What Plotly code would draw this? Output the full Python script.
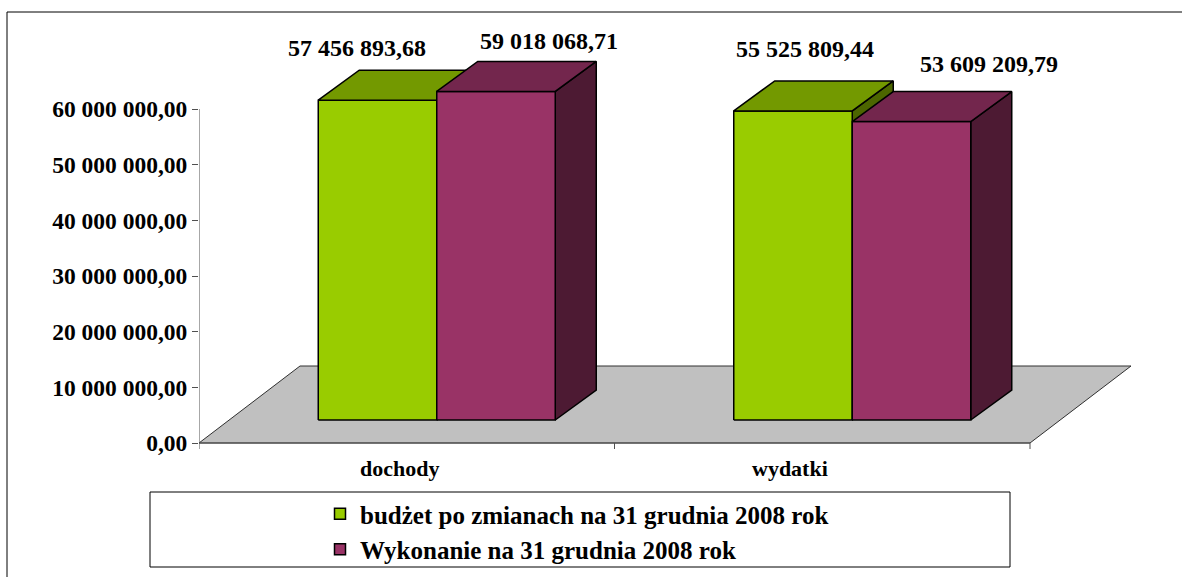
import plotly.graph_objects as go

# ---------------- data ----------------
categories = ["dochody", "wydatki"]
series_names = ["budżet po zmianach na 31 grudnia 2008 rok",
                "Wykonanie na 31 grudnia 2008 rok"]
budzet = [57456893.68, 55525809.44]
wykonanie = [59018068.71, 53609209.79]
tick_values = [0, 10000000, 20000000, 30000000, 40000000, 50000000, 60000000]
tick_labels = ["0,00", "10 000 000,00", "20 000 000,00", "30 000 000,00",
               "40 000 000,00", "50 000 000,00", "60 000 000,00"]

# ---------------- styling / geometry ----------------
W, H = 1182, 577
FONT = "Liberation Serif"
front_colors = ["#99CC00", "#993366"]
top_colors = ["#739900", "#73264D"]
side_colors = ["#4C6600", "#4D1A33"]
floor_color = "#C0C0C0"

AX_LEFT_PX = 199          # y-axis position in px
PX_PER_CAT = 415.5        # px per category unit
Y0_PX = 443               # pixel row of value 0
PX_PER_VAL = 334 / 60e6   # px per value unit

x_range = [-0.5, -0.5 + (W - AX_LEFT_PX) / PX_PER_CAT]
y_range = [-(H - Y0_PX) / PX_PER_VAL, Y0_PX / PX_PER_VAL]


def dxu(px):
    return px / PX_PER_CAT


def dyu(px):
    return px / PX_PER_VAL


bar_w = dxu(118.5)
front_dx, front_dy = dxu(30), dyu(23)     # depth position of bar front faces
depth_dx, depth_dy = dxu(41), dyu(30)     # bar depth
floor_dx, floor_dy = dxu(101), dyu(77)    # floor depth

# label nudges (px) for each series / category
label_xshift = [[-21, 12], [53, 77]]
label_yshift = [[52, 62], [50, 58]]
cat_label_xshift = [-7, -32]


def fmt(v):
    s = f"{v:,.2f}"
    return s.replace(",", " ").replace(".", ",")


def bold(size):
    return dict(family=FONT, size=size, color="black", weight="bold")


fig = go.Figure()

# floor
n = len(categories)
fx = [-0.5, n - 0.5, n - 0.5 + floor_dx, -0.5 + floor_dx, -0.5]
fy = [0, 0, floor_dy, floor_dy, 0]
fig.add_trace(go.Scatter(x=fx, y=fy, fill="toself", fillcolor=floor_color,
                         mode="lines", line=dict(color="#303030", width=1),
                         showlegend=False, hoverinfo="skip"))

series = [budzet, wykonanie]
for k, vals in enumerate(series):
    sx, sy, tx, ty, ffx, ffy = [], [], [], [], [], []
    for i, v in enumerate(vals):
        xl = i + front_dx - bar_w + k * bar_w
        xr = xl + bar_w
        b = front_dy
        t = front_dy + v
        ffx += [xl, xr, xr, xl, xl, None]
        ffy += [b, b, t, t, b, None]
        tx += [xl, xr, xr + depth_dx, xl + depth_dx, xl, None]
        ty += [t, t, t + depth_dy, t + depth_dy, t, None]
        sx += [xr, xr + depth_dx, xr + depth_dx, xr, xr, None]
        sy += [b, b + depth_dy, t + depth_dy, t, b, None]
    line = dict(color="black", width=1.5)
    fig.add_trace(go.Scatter(x=sx, y=sy, fill="toself", fillcolor=side_colors[k],
                             mode="lines", line=line, showlegend=False, hoverinfo="skip"))
    fig.add_trace(go.Scatter(x=ffx, y=ffy, fill="toself", fillcolor=front_colors[k],
                             mode="lines", line=line, showlegend=False,
                             name=series_names[k], hoverinfo="skip"))
    fig.add_trace(go.Scatter(x=tx, y=ty, fill="toself", fillcolor=top_colors[k],
                             mode="lines", line=line, showlegend=False, hoverinfo="skip"))
    # data labels
    for i, v in enumerate(vals):
        xc = i + front_dx - bar_w / 2 + k * bar_w
        fig.add_annotation(x=xc, y=front_dy + v, text=fmt(v), showarrow=False,
                           xanchor="center", yanchor="middle",
                           xshift=label_xshift[k][i], yshift=label_yshift[k][i],
                           font=bold(24))

# legend entries
for k, name in enumerate(series_names):
    fig.add_trace(go.Scatter(x=[None], y=[None], mode="markers", name=name,
                             marker=dict(symbol="square", size=11, color=front_colors[k],
                                         line=dict(color="black", width=1.5))))

# category labels
for i, c in enumerate(categories):
    fig.add_annotation(x=i, y=0, text=c, showarrow=False, xanchor="center",
                       yanchor="middle", yshift=-25, xshift=cat_label_xshift[i],
                       font=bold(22))

axis_col = "#505050"
shapes = [
    # outer frame
    dict(type="rect", xref="paper", yref="paper", x0=7 / W, y0=-0.05, x1=1.05,
         y1=1 - 12 / H, line=dict(color="black", width=1), fillcolor="rgba(0,0,0,0)"),
    # legend box
    dict(type="rect", xref="paper", yref="paper", x0=150 / W, x1=1010 / W,
         y0=1 - 567 / H, y1=1 - 492 / H, line=dict(color="black", width=1),
         fillcolor="rgba(0,0,0,0)"),
    # value axis line
    dict(type="line", xref="x", yref="y", x0=-0.5, x1=-0.5, y0=0, y1=tick_values[-1],
         line=dict(color=axis_col, width=1)),
    # category axis line
    dict(type="line", xref="x", yref="y", x0=-0.5, x1=n - 0.5, y0=0, y1=0,
         line=dict(color=axis_col, width=1.2)),
]
for j in range(n + 1):
    shapes.append(dict(type="line", xref="x", yref="y", x0=j - 0.5, x1=j - 0.5,
                       y0=0, y1=-dyu(6), line=dict(color=axis_col, width=1)))

fig.update_layout(
    width=W, height=H,
    margin=dict(l=0, r=0, t=0, b=0),
    paper_bgcolor="white", plot_bgcolor="white",
    shapes=shapes,
    showlegend=True,
    legend=dict(x=320 / W, y=1 - 491 / H, xanchor="left", yanchor="top",
                bgcolor="rgba(0,0,0,0)", borderwidth=0,
                font=bold(25), tracegroupgap=0,
                itemclick=False, itemdoubleclick=False),
    xaxis=dict(domain=[AX_LEFT_PX / W, 1], range=x_range, visible=False, fixedrange=True),
    yaxis=dict(range=y_range, tickmode="array", tickvals=tick_values, ticktext=tick_labels,
               showgrid=False, zeroline=False, showline=False,
               ticks="outside", ticklen=6, tickcolor=axis_col, ticklabelstandoff=0,
               tickfont=bold(23.5), fixedrange=True),
)

fig.write_html("out.html", config={"displayModeBar": False},
               post_script="document.body.style.margin='0px';")
